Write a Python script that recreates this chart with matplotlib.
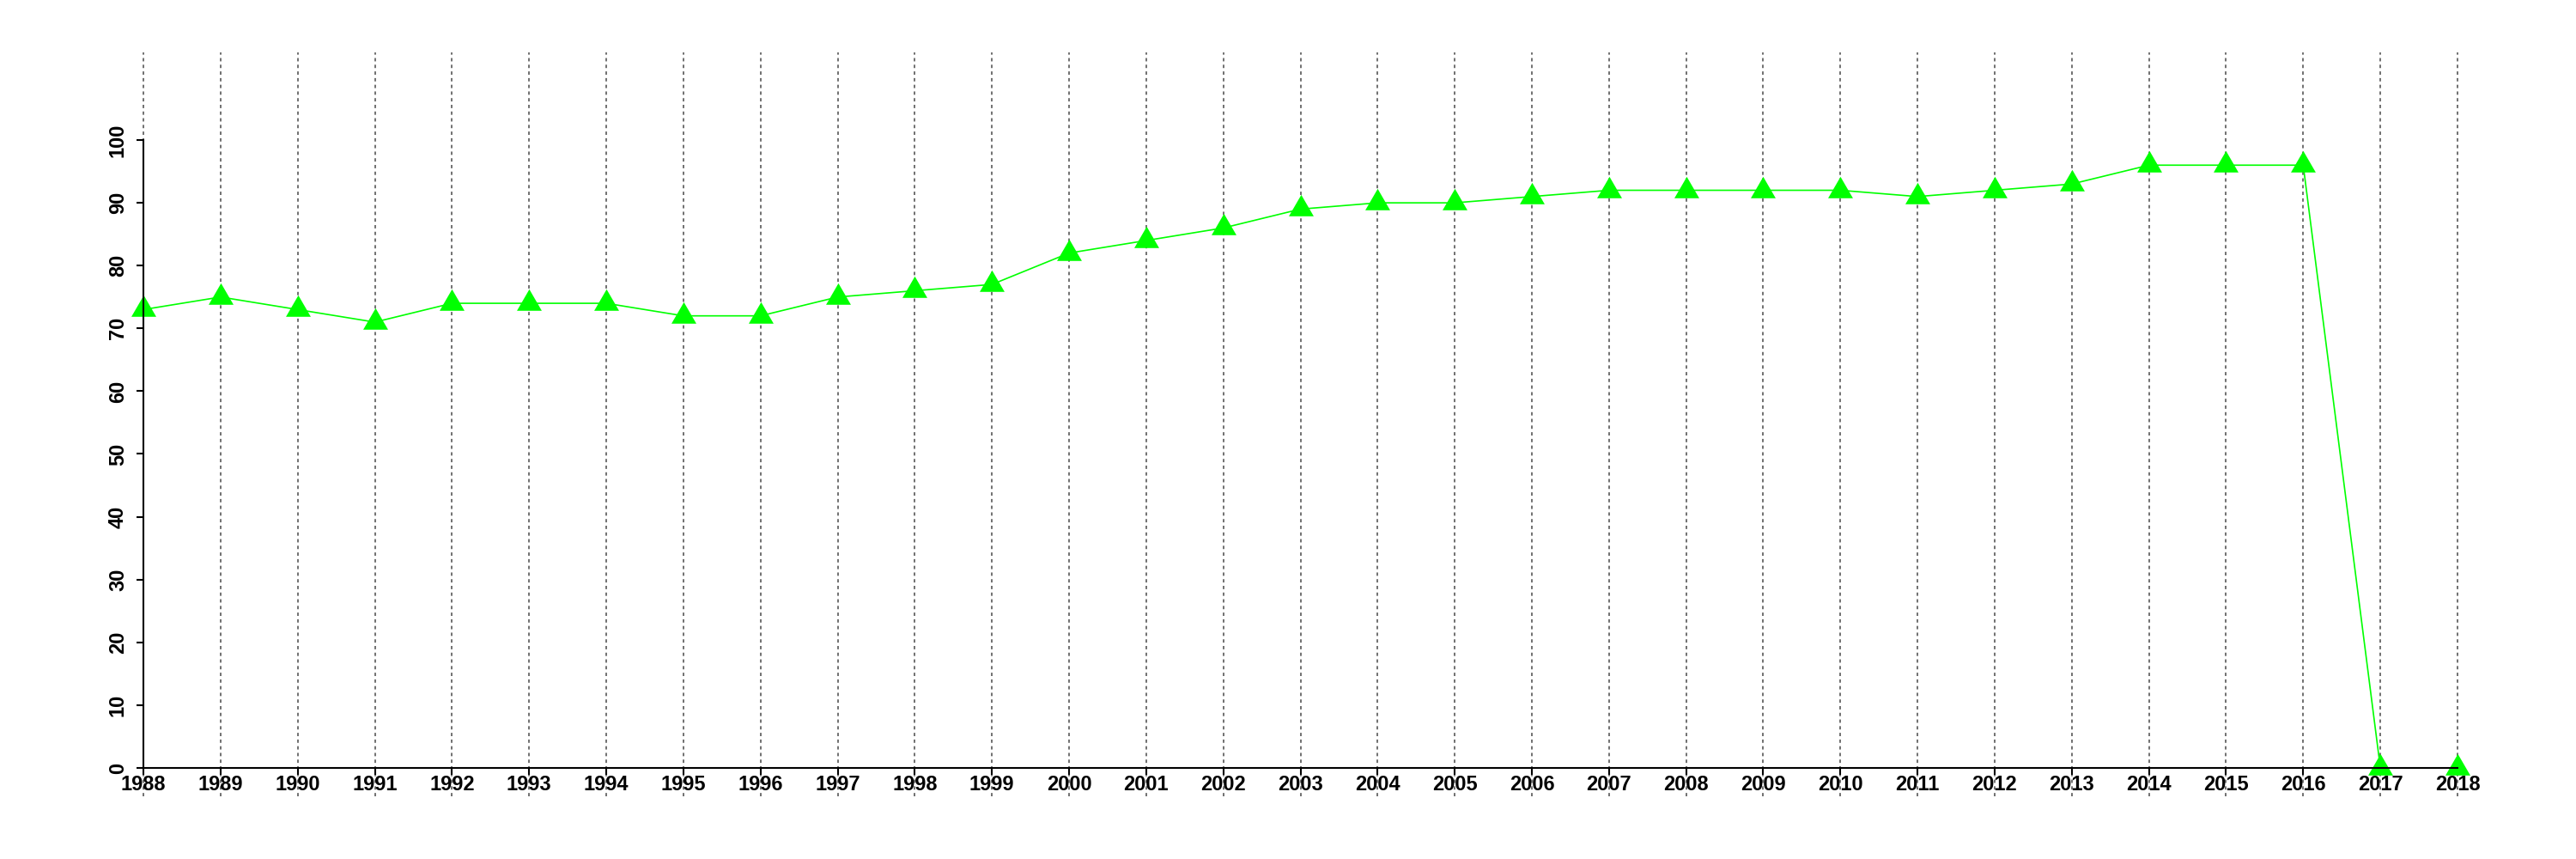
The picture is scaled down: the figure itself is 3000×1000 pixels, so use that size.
import matplotlib
matplotlib.use("Agg")
import matplotlib.pyplot as plt

years = list(range(1988, 2019))
values = [73, 75, 73, 71, 74, 74, 74, 72, 72, 75, 76, 77, 82, 84, 86, 89, 90, 90,
          91, 92, 92, 92, 92, 91, 92, 93, 96, 96, 96, 0, 0]
yticks = [0, 10, 20, 30, 40, 50, 60, 70, 80, 90, 100]

plt.rcParams['font.family'] = ['Liberation Sans', 'DejaVu Sans']
plt.rcParams['font.weight'] = 'bold'

fig = plt.figure(figsize=(30, 10), dpi=100)
left_px, right_px = 122.1, 2906.9
bottom_px, top_px = 930.5, 53.4
ax = fig.add_axes([left_px / 3000, 1 - bottom_px / 1000,
                   (right_px - left_px) / 3000, (bottom_px - top_px) / 1000])
ax.set_xlim(1987.5, 2018.5)
ax.set_ylim(-5, 115)

ax.vlines(years, -4.5, 114, colors='#707070', linestyles=(0, (2, 2)), linewidth=1.4, zorder=1)

tri = [(0, 16.7), (-14.5, -8.3), (14.5, -8.3), (0, 16.7)]
ax.plot(years, values, color='#00FF00', linewidth=1.2, marker=tri, markersize=24,
        markerfacecolor='#00FF00', markeredgewidth=0, clip_on=False, zorder=2)

for s in ['top', 'right']:
    ax.spines[s].set_visible(False)
ax.spines['left'].set_position(('data', 1988))
ax.spines['bottom'].set_position(('data', 0))
ax.spines['left'].set_bounds(0, 100)
ax.spines['bottom'].set_bounds(1988, 2018)
for s in ['left', 'bottom']:
    ax.spines[s].set_linewidth(1.5)
    ax.spines[s].set_zorder(3)

ax.set_xticks(years)
ax.set_xticklabels([str(y) for y in years], fontsize=17, fontweight='bold')
ax.set_yticks(yticks)
ax.set_yticklabels([str(v) for v in yticks], fontsize=17, fontweight='bold',
                   rotation=90, va='center')
ax.tick_params(axis='x', length=6, width=1.5, pad=0)
ax.tick_params(axis='y', length=6, width=1.5, pad=7)

fig.savefig('out.png', dpi=100)
